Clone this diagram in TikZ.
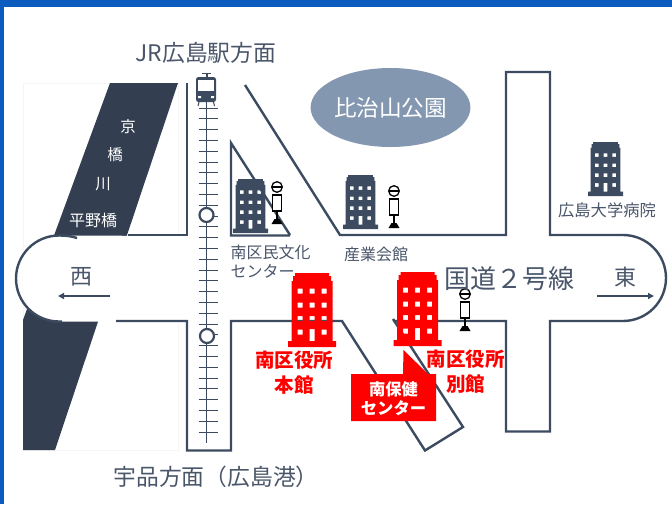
\documentclass[tikz,border=0pt]{standalone}
\usepackage{fontspec}
\setmainfont{Noto Sans CJK JP}
\usetikzlibrary{arrows.meta,shapes.geometric}
\definecolor{roadc}{HTML}{3D4B60}
\definecolor{riverc}{HTML}{333F50}
\definecolor{textc}{HTML}{4A566A}
\definecolor{parkc}{HTML}{8497B0}
\definecolor{barc}{HTML}{0B5CBE}
\definecolor{redc}{HTML}{FF0000}
\tikzset{
  road/.style={draw=roadc,line width=2.4pt,line join=miter},
  lab/.style={inner sep=0pt,text=textc,align=center},
  fs/.style={font=\fontsize{#1}{#1}\selectfont},
  redlab/.style={inner sep=0pt,text=redc,align=center,font=\fontsize{19.5}{25}\selectfont\bfseries},
  whitelab/.style={inner sep=0pt,text=white,align=center},
  dirarrow/.style={draw=roadc,line width=1.6pt,-{Triangle[length=6pt,width=6pt]}},
}
% building: x y scale colour
\newcommand\bldg[4]{%
  \begin{scope}[shift={(#1,#2)},scale=#3]
  \fill[#4,even odd rule]
    (7,0)--(41,0)--(41,3)--(43,3)--(43,8)--(44.5,8)--(44.5,68)--(48,68)--(48,74)--(0,74)--(0,68)--(3.5,68)--(3.5,8)--(5,8)--(5,3)--(7,3)--cycle
    (9.5,15.5) rectangle ++(5,5) (21.5,15.5) rectangle ++(5,5) (33.5,15.5) rectangle ++(5,5)
    (9.5,29.5) rectangle ++(5,5) (21.5,29.5) rectangle ++(5,5) (33.5,29.5) rectangle ++(5,5)
    (9.5,43) rectangle ++(5,5) (21.5,43) rectangle ++(5,5) (33.5,43) rectangle ++(5,5)
    (9.5,56.5) rectangle ++(5,5) (21.5,56) rectangle ++(5,12) (33.5,56.5) rectangle ++(5,5);
  \end{scope}}
% bus stop: x y of the head centre
\newcommand\busstop[2]{%
  \begin{scope}[shift={(#1,#2)}]
  \draw[black,line width=1.3pt] (0,13)--(0,33);
  \draw[black,fill=white,line width=1.3pt] (0,0) circle[radius=5.3];
  \draw[black,line width=1.6pt] (-5,0)--(5,0);
  \draw[black,fill=white,line width=1.3pt] (-4.8,8) rectangle (4.8,24);
  \fill[black] (-2.5,32)--(2.5,32)--(5.5,37)--(-5.5,37)--cycle;
  \end{scope}}
\begin{document}
\begin{tikzpicture}[x=1pt,y=-1pt]
\useasboundingbox (0,0) rectangle (672,504);
\fill[white] (0,0) rectangle (672,504);
% frame
\fill[barc] (0,0) rectangle (672,7);
\fill[barc] (0,0) rectangle (4,504);
% faint panel
\draw[draw=black!4,line width=0.6pt] (23,83) rectangle (178,450);
% river
\fill[riverc] (110,83)--(178,83)--(55,450)--(23,450)--(23,320)--cycle;
% road surface
\fill[white] (59,235.5) arc[start angle=270,end angle=90,radius=43] -- (187,321.5) -- (187,236) -- cycle;
\fill[white] (187,236) rectangle (231,450);
% road outline
\draw[road] (77,238) .. controls (71,236) and (65,235.5) .. (59,235.5) arc[start angle=270,end angle=90,radius=43] -- (62,321.5);
\draw[road] (116,321) -- (187,321) -- (187,450.5) -- (231,450.5) -- (231,321) -- (342,321) -- (425,450.5) -- (463,427) -- (393,319);
\draw[road] (393,321) -- (506,321) -- (506,431.5) -- (550,431.5) -- (550,321) -- (623,321) arc[start angle=90,end angle=-90,radius=43] -- (550,235) -- (550,72) -- (506,72) -- (506,235) -- (340,235) -- (245,85);
\draw[road] (128,235) -- (187,235) -- (187,83);
\draw[road] (290,235) -- (231,143) -- (231,235.5) -- (290,235.5);
% park
\node[ellipse,fill=parkc,minimum width=156pt,minimum height=79pt,inner sep=0pt,text=white,fs=22.6] (park) at (390.5,107.5) {比治山公園};
% railway
\draw[roadc,line width=1pt] (206.5,100) -- (206.5,443);
\foreach \i in {0,...,30} \draw[roadc,line width=0.9pt] (198.5,108+10.8*\i) -- (217.5,108+10.8*\i);
\draw[roadc,fill=white,line width=2.2pt] (206.5,215) circle[radius=7];
\draw[roadc,fill=white,line width=2.2pt] (207,336) circle[radius=7];
% train
\fill[roadc] (202,72.5) rectangle (211,74);
\fill[roadc] (205.5,73) rectangle (207.5,78);
\fill[roadc,rounded corners=2.5pt] (196,77) rectangle (216,102);
\fill[white] (198,80) rectangle (214,90.5);
\fill[white] (198,96) rectangle (201,98) (211,96) rectangle (214,98);
\draw[roadc,line width=1pt] (199,102) -- (198,106) (213.5,102) -- (214.5,106);
% buildings
\bldg{233}{179}{0.73}{roadc}
\bldg{343}{175}{0.73}{roadc}
\bldg{588}{142}{0.73}{roadc}
\busstop{277}{187}
\busstop{394}{191}
\busstop{465}{294}
\bldg{288}{273}{1}{redc}
\bldg{393.5}{272}{1}{redc}
% callout
\fill[redc] (351,374) -- (403,374) -- (403.5,350) -- (428,374) -- (436,374) -- (436,421) -- (351,421) -- cycle;
\node[whitelab,font=\fontsize{16.3}{19}\selectfont\bfseries] (hoken) at (393.5,398.5) {南保健\\[0pt]センター};
% labels
\node[lab,fs=22.8] (jr) at (206,53) {JR広島駅方面};
\node[lab,fs=22.8] (ujina) at (216,476.5) {宇品方面（広島港）};
\node[lab,fs=22] (west) at (81,277) {西};
\node[lab,fs=22] (east) at (625,277) {東};
\coordinate (wa) at (110,296); \coordinate (wb) at (58,296);
\coordinate (ea) at (597,296); \coordinate (eb) at (654,296);
\draw[dirarrow] (wa) -- (wb);
\draw[dirarrow] (ea) -- (eb);
\node[lab,fs=26] (r2) at (509.5,279) {国道２号線};
\node[whitelab,fs=15.5] (k1) at (128,127) {京};
\node[whitelab,fs=15.5] (k2) at (115,155) {橋};
\node[whitelab,fs=15.5] (k3) at (103,184) {川};
\node[whitelab,fs=16] (hirano) at (93,220) {平野橋};
\node[lab,fs=16.3] (hosp) at (607,210) {広島大学病院};
\node[lab,align=left,anchor=north west,font=\fontsize{16}{19.5}\selectfont] (minku) at (230.5,244.5) {南区民文化\\センター};
\node[lab,fs=16] (sangyo) at (376,254) {産業会館};
\node[redlab] (honkan) at (294,372.5) {南区役所\\本館};
\node[redlab] (bekkan) at (465.5,372) {南区役所\\別館};
\end{tikzpicture}
\end{document}
